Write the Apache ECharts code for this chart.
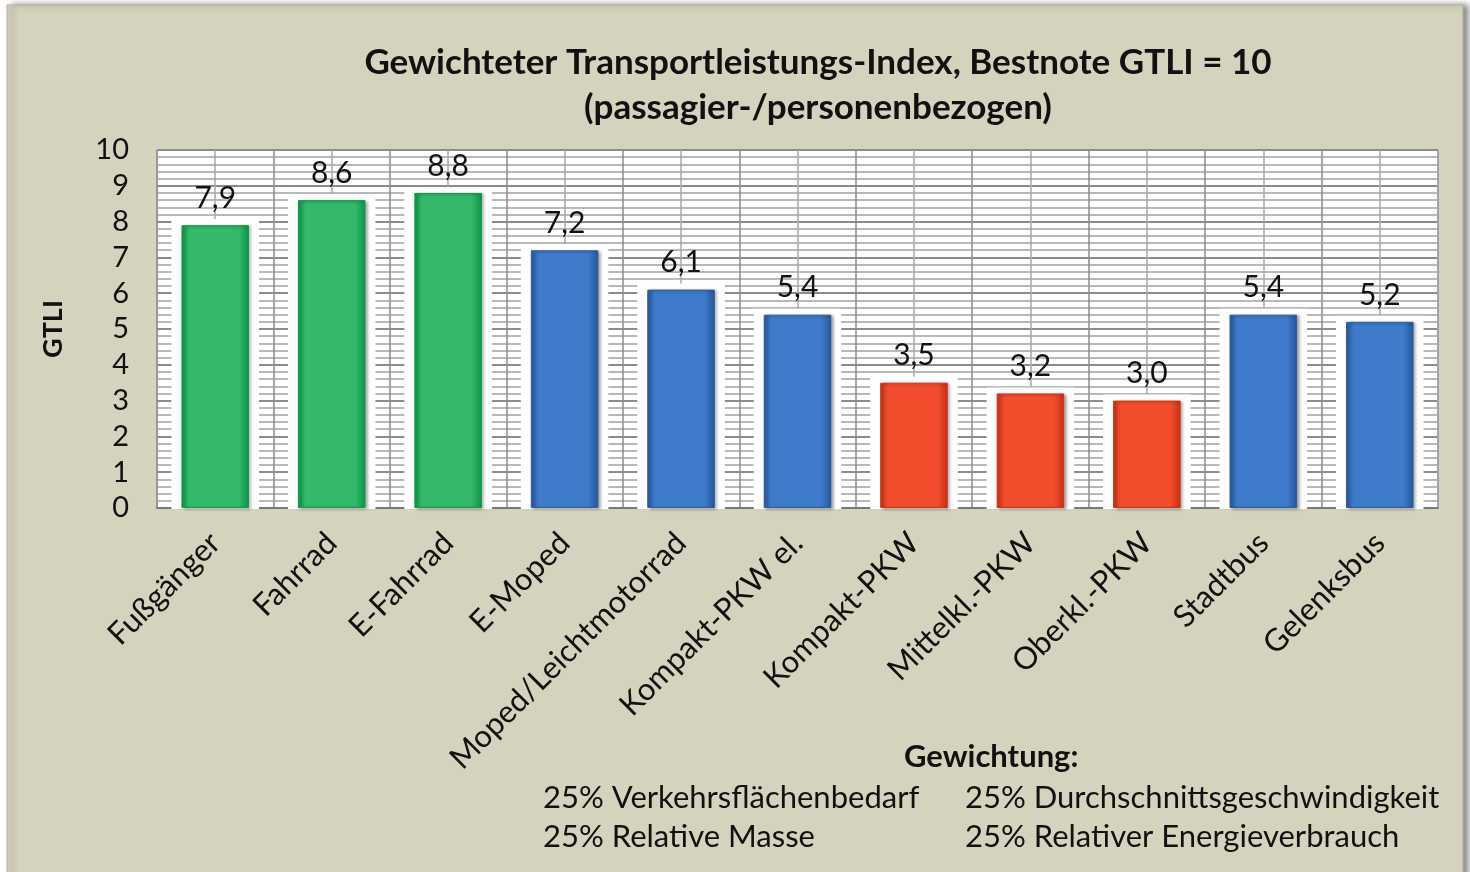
<!DOCTYPE html>
<html>
<head>
<meta charset="utf-8">
<title>GTLI</title>
<script src="https://cdn.jsdelivr.net/npm/echarts@6/dist/echarts.min.js"></script>
<style>
  html, body { margin: 0; padding: 0; background: #ffffff; }
  #chart { width: 1470px; height: 872px; }
</style>
</head>
<body>
<div id="chart"></div>
<script>
  // data
  const categories = ['Fußgänger', 'Fahrrad', 'E-Fahrrad', 'E-Moped', 'Moped/Leichtmotorrad',
    'Kompakt-PKW el.', 'Kompakt-PKW', 'Mittelkl.-PKW', 'Oberkl.-PKW', 'Stadtbus', 'Gelenksbus']
  const gtli = [7.9, 8.6, 8.8, 7.2, 6.1, 5.4, 3.5, 3.2, 3.0, 5.4, 5.2]
  const groups = ['green', 'green', 'green', 'blue', 'blue', 'blue', 'red', 'red', 'red', 'blue', 'blue']
  const yTicks = [0, 1, 2, 3, 4, 5, 6, 7, 8, 9, 10]
  const titleLines = ['Gewichteter Transportleistungs-Index, Bestnote GTLI = 10', '(passagier-/personenbezogen)']
  const weightingTitle = 'Gewichtung:'
  const weightingLeft = ['25% Verkehrsflächenbedarf', '25% Relative Masse']
  const weightingRight = ['25% Durchschnittsgeschwindigkeit', '25% Relativer Energieverbrauch']

  const FONT = 'Lato, "Open Sans", sans-serif'
  const palette = {
    green: ['#0f9a4c', '#34b96a', '#0c9347'],
    blue: ['#2b5c9f', '#3e7bca', '#27559a'],
    red: ['#cf3419', '#f24e2d', '#c52f16']
  }
  const halfCats = []
  categories.forEach(c => { halfCats.push(c + '_a'); halfCats.push(c + '_b') })

  function barColor (g) {
    const p = palette[g]
    return {
      type: 'linear', x: 0, y: 0, x2: 1, y2: 0,
      colorStops: [
        { offset: 0, color: p[0] },
        { offset: 0.12, color: p[1] },
        { offset: 0.85, color: p[1] },
        { offset: 1, color: p[2] }
      ]
    }
  }

  function textBlock (lines, left, top, weight) {
    return lines.map((t, i) => ({
      type: 'text', left: left, top: top + i * 39, z: 10,
      style: { text: t, fill: '#111', font: weight + ' 31px ' + FONT }
    }))
  }

  const chart = echarts.init(document.getElementById('chart'))
  const options = {
    animation: false,
    backgroundColor: '#ffffff',
    graphic: [
      {
        type: 'rect',
        z: -10,
        shape: { x: 7, y: 5, width: 1456, height: 880 },
        style: {
          fill: '#d5d2bd', stroke: '#b4b2a4', lineWidth: 1,
          shadowBlur: 6, shadowOffsetX: 5, shadowOffsetY: 0, shadowColor: 'rgba(0,0,0,0.45)'
        }
      }
    ]
      .concat(titleLines.map((t, i) => ({
        type: 'text', z: 10,
        style: {
          x: 818, y: 63 + i * 45, text: t, fill: '#111', font: 'bold 35px ' + FONT,
          align: 'center', verticalAlign: 'middle'
        }
      })))
      .concat(textBlock([weightingTitle], 904, 741, 'bold'))
      .concat(textBlock(weightingLeft, 543, 782, 'normal'))
      .concat(textBlock(weightingRight, 965, 782, 'normal')),
    grid: {
      left: 157,
      right: 32,
      top: 150,
      bottom: 364,
      show: true,
      backgroundColor: '#ffffff',
      borderColor: '#8a8a8a',
      borderWidth: 1
    },
    xAxis: [
      {
        type: 'category',
        data: categories,
        boundaryGap: true,
        axisLine: { show: true, lineStyle: { color: '#7a7a7a', width: 2 } },
        axisTick: { show: false },
        splitLine: { show: true, lineStyle: { color: '#8c8c8c', width: 1.5 } },
        axisLabel: {
          rotate: 45,
          interval: 0,
          margin: 30,
          color: '#111',
          fontSize: 31,
          fontFamily: FONT
        }
      },
      {
        type: 'category',
        data: halfCats,
        position: 'bottom',
        boundaryGap: true,
        axisLine: { show: false },
        axisTick: { show: false },
        axisLabel: { show: false },
        splitLine: {
          show: true,
          interval: (i) => i % 2 === 1,
          lineStyle: { color: '#a8a8a8', width: 1.5 }
        }
      }
    ],
    yAxis: {
      type: 'value',
      min: yTicks[0],
      max: yTicks[yTicks.length - 1],
      interval: 1,
      name: 'GTLI',
      nameLocation: 'middle',
      nameRotate: 90,
      nameGap: 90,
      nameTextStyle: { color: '#111', fontSize: 27, fontWeight: 'bold', fontFamily: FONT },
      axisLine: { show: false },
      axisTick: { show: false },
      axisLabel: { color: '#111', fontSize: 29, fontFamily: FONT, margin: 28 },
      splitLine: { show: true, lineStyle: { color: '#8c8c8c', width: 2 } },
      minorTick: { show: false, splitNumber: 5 },
      minorSplitLine: { show: true, lineStyle: { color: '#b9b9b9', width: 2 } }
    },
    series: [
      {
        // white halo behind each bar
        type: 'custom',
        xAxisIndex: 0,
        z: 2,
        silent: true,
        data: gtli.map((v, i) => [i, v]),
        renderItem: (params, api) => {
          const top = api.coord([api.value(0), api.value(1)])
          const base = api.coord([api.value(0), 0])
          const w = api.size([1, 0])[0] * 0.58 + 20
          return {
            type: 'rect',
            shape: { x: top[0] - w / 2, y: top[1] - 6, width: w, height: base[1] - top[1] + 7 },
            style: { fill: '#ffffff' }
          }
        }
      },
      {
        type: 'bar',
        xAxisIndex: 0,
        z: 3,
        barWidth: '58%',
        data: gtli.map((v, i) => ({
          value: v,
          itemStyle: {
            color: barColor(groups[i]),
            borderColor: palette[groups[i]][0],
            borderWidth: 1,
            shadowColor: 'rgba(0,0,0,0.35)',
            shadowBlur: 3,
            shadowOffsetX: 2,
            shadowOffsetY: 1
          }
        })),
        label: {
          show: true,
          position: 'top',
          distance: 12,
          color: '#111',
          fontSize: 30,
          fontFamily: FONT,
          formatter: (p) => p.value.toFixed(1).replace('.', ',')
        }
      }
    ]
  }
  chart.setOption(options)
</script>
</body>
</html>
